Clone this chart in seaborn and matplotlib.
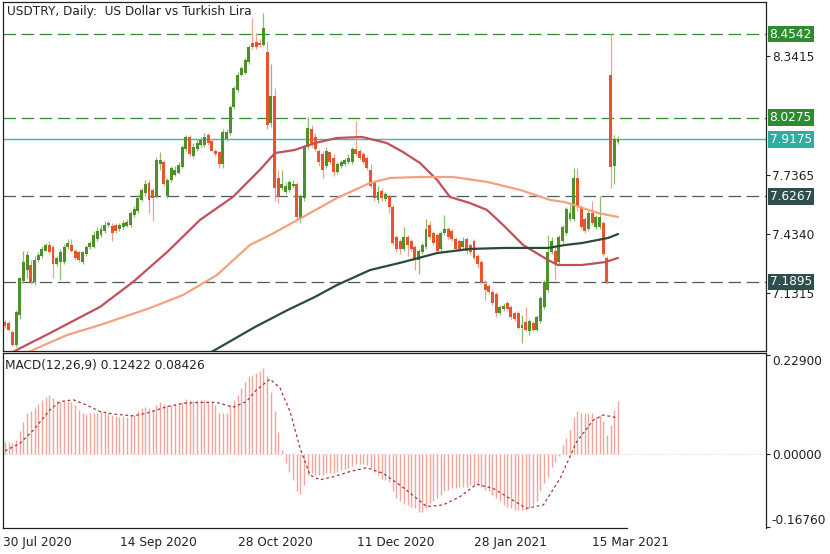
import numpy as np
import pandas as pd
import seaborn as sns
import matplotlib
matplotlib.use("Agg")
import matplotlib.pyplot as plt

# ---- daily candles, 30 Jul 2020 .. Mar 2021 ----
opens = [6.985, 6.98, 6.935, 6.87, 7.02, 7.195, 7.25, 7.275, 7.19, 7.30,
         7.32, 7.35, 7.38, 7.37, 7.28, 7.29, 7.29, 7.37, 7.38, 7.35,
         7.34, 7.29, 7.33, 7.37, 7.37, 7.41, 7.43, 7.45, 7.48, 7.475,
         7.48, 7.46, 7.47, 7.475, 7.48, 7.53, 7.55, 7.61, 7.645, 7.695,
         7.66, 7.63, 7.79, 7.80, 7.63, 7.71, 7.735, 7.745, 7.775, 7.87,
         7.93, 7.83, 7.87, 7.89, 7.89, 7.94, 7.91, 7.86, 7.85, 7.79,
         7.92, 7.95, 8.08, 8.17, 8.245, 8.255, 8.31, 8.41, 8.415, 8.41,
         8.40, 8.36, 8.00, 8.14, 7.72, 7.67, 7.65, 7.66, 7.68, 7.69,
         7.51, 7.62, 7.88, 7.97, 7.93, 7.86, 7.84, 7.78, 7.85, 7.82,
         7.75, 7.78, 7.79, 7.80, 7.80, 7.87, 7.855, 7.84, 7.82, 7.76,
         7.70, 7.61, 7.655, 7.615, 7.63, 7.57, 7.42, 7.40, 7.36, 7.42,
         7.40, 7.37, 7.30, 7.34, 7.37, 7.48, 7.44, 7.43, 7.36, 7.44,
         7.46, 7.45, 7.41, 7.40, 7.37, 7.41, 7.38, 7.40, 7.32, 7.29,
         7.18, 7.17, 7.14, 7.13, 7.03, 7.05, 7.08, 7.06, 7.03, 7.03,
         6.955, 6.985, 6.94, 6.98, 6.945, 6.99, 7.06, 7.15, 7.34, 7.35,
         7.29, 7.40, 7.44, 7.51, 7.51, 7.72, 7.57, 7.51, 7.46, 7.54,
         7.47, 7.47, 7.49, 7.31, 8.245, 7.78, 7.905]
highs = [6.996, 6.99, 6.945, 7.045, 7.215, 7.35, 7.35, 7.30, 7.32, 7.34,
         7.375, 7.39, 7.40, 7.38, 7.32, 7.36, 7.385, 7.41, 7.41, 7.36,
         7.35, 7.35, 7.38, 7.40, 7.45, 7.47, 7.48, 7.50, 7.50, 7.49,
         7.49, 7.49, 7.505, 7.51, 7.55, 7.575, 7.64, 7.67, 7.71, 7.71,
         7.67, 7.825, 7.85, 7.81, 7.72, 7.78, 7.78, 7.80, 7.89, 7.94,
         7.94, 7.90, 7.92, 7.93, 7.95, 7.95, 7.92, 7.87, 7.86, 7.97,
         7.97, 8.09, 8.19, 8.26, 8.29, 8.33, 8.40, 8.535, 8.46, 8.43,
         8.56, 8.42, 8.30, 8.18, 7.76, 7.76, 7.70, 7.71, 7.71, 7.70,
         7.64, 7.89, 8.03, 7.99, 7.95, 7.87, 7.86, 7.88, 7.86, 7.84,
         7.80, 7.81, 7.82, 7.84, 7.88, 8.01, 7.87, 7.85, 7.83, 7.79,
         7.71, 7.68, 7.67, 7.65, 7.64, 7.58, 7.43, 7.41, 7.47, 7.43,
         7.41, 7.38, 7.36, 7.39, 7.51, 7.50, 7.45, 7.44, 7.45, 7.53,
         7.47, 7.46, 7.42, 7.41, 7.42, 7.42, 7.39, 7.41, 7.33, 7.30,
         7.20, 7.18, 7.15, 7.14, 7.07, 7.08, 7.09, 7.07, 7.04, 7.04,
         7.02, 7.06, 7.00, 6.99, 7.02, 7.12, 7.20, 7.43, 7.42, 7.37,
         7.43, 7.48, 7.57, 7.58, 7.77, 7.77, 7.58, 7.52, 7.55, 7.60,
         7.53, 7.63, 7.50, 7.32, 8.46, 7.94, 7.935]
lows = [6.955, 6.94, 6.865, 6.86, 7.00, 7.185, 7.21, 7.18, 7.175, 7.29,
        7.31, 7.345, 7.33, 7.21, 7.27, 7.20, 7.28, 7.36, 7.34, 7.30,
        7.29, 7.28, 7.32, 7.36, 7.365, 7.40, 7.42, 7.44, 7.47, 7.40,
        7.44, 7.45, 7.46, 7.47, 7.47, 7.52, 7.54, 7.60, 7.63, 7.54,
        7.50, 7.62, 7.76, 7.68, 7.62, 7.70, 7.73, 7.74, 7.77, 7.86,
        7.83, 7.82, 7.86, 7.88, 7.88, 7.89, 7.855, 7.83, 7.77, 7.77,
        7.91, 7.94, 8.07, 8.16, 8.24, 8.25, 8.30, 8.38, 8.38, 8.39,
        8.395, 7.97, 7.98, 7.60, 7.59, 7.66, 7.64, 7.65, 7.67, 7.50,
        7.49, 7.60, 7.87, 7.88, 7.86, 7.78, 7.72, 7.77, 7.79, 7.73,
        7.74, 7.77, 7.78, 7.79, 7.79, 7.83, 7.81, 7.79, 7.76, 7.67,
        7.60, 7.59, 7.60, 7.60, 7.54, 7.38, 7.34, 7.33, 7.35, 7.32,
        7.35, 7.25, 7.23, 7.33, 7.36, 7.41, 7.38, 7.34, 7.35, 7.43,
        7.41, 7.40, 7.35, 7.35, 7.36, 7.33, 7.33, 7.30, 7.26, 7.18,
        7.10, 7.13, 7.07, 7.01, 7.02, 7.04, 7.04, 7.00, 6.99, 6.95,
        6.88, 6.94, 6.92, 6.94, 6.94, 6.98, 7.05, 7.14, 7.33, 7.20,
        7.28, 7.39, 7.43, 7.50, 7.50, 7.55, 7.46, 7.44, 7.45, 7.48,
        7.46, 7.46, 7.32, 7.18, 7.67, 7.69, 7.895]
closes = [6.965, 6.945, 6.87, 7.035, 7.21, 7.29, 7.325, 7.19, 7.30, 7.325,
          7.36, 7.38, 7.34, 7.28, 7.31, 7.34, 7.37, 7.39, 7.345, 7.31,
          7.30, 7.34, 7.37, 7.39, 7.43, 7.45, 7.46, 7.48, 7.49, 7.44,
          7.45, 7.48, 7.49, 7.495, 7.54, 7.56, 7.62, 7.66, 7.69, 7.61,
          7.62, 7.81, 7.81, 7.69, 7.71, 7.77, 7.76, 7.785, 7.88, 7.93,
          7.84, 7.88, 7.90, 7.915, 7.93, 7.90, 7.86, 7.84, 7.79, 7.955,
          7.955, 8.08, 8.18, 8.245, 8.28, 8.32, 8.39, 8.39, 8.39, 8.40,
          8.485, 7.99, 8.14, 7.67, 7.63, 7.69, 7.68, 7.70, 7.69, 7.52,
          7.63, 7.88, 7.975, 7.90, 7.87, 7.80, 7.76, 7.86, 7.80, 7.75,
          7.79, 7.80, 7.81, 7.82, 7.87, 7.84, 7.82, 7.80, 7.77, 7.68,
          7.62, 7.65, 7.62, 7.64, 7.57, 7.39, 7.36, 7.36, 7.42, 7.38,
          7.36, 7.30, 7.35, 7.38, 7.46, 7.42, 7.39, 7.35, 7.44, 7.46,
          7.42, 7.41, 7.36, 7.36, 7.40, 7.35, 7.34, 7.31, 7.28, 7.19,
          7.15, 7.14, 7.08, 7.03, 7.06, 7.065, 7.05, 7.01, 7.00, 6.955,
          6.97, 6.945, 6.99, 6.945, 7.01, 7.11, 7.19, 7.34, 7.40, 7.28,
          7.42, 7.47, 7.56, 7.54, 7.72, 7.57, 7.47, 7.45, 7.54, 7.49,
          7.52, 7.52, 7.33, 7.19, 7.776, 7.92, 7.9175]

# moving averages (sampled along the drawn curves)
ma_red_bars = [0, 3.2, 12.2, 25.7, 34.7, 43.9, 52.8, 61.7, 69.0, 73.1, 78.5, 83.9,
               89.9, 96.7, 103.4, 107.8, 112.4, 117.0, 120.5, 125.9, 130.5,
               134.9, 140.3, 147.0, 149.7, 156.2, 162.5, 166.0]
ma_red_vals = [6.81, 6.843, 6.929, 7.062, 7.19, 7.342, 7.506, 7.623, 7.761, 7.847,
               7.863, 7.898, 7.924, 7.929, 7.898, 7.852, 7.796, 7.71, 7.623,
               7.592, 7.557, 7.48, 7.378, 7.302, 7.276, 7.276, 7.291, 7.312]
ma_orange_bars = [0, 7.6, 16.8, 25.7, 39.3, 48.2, 57.4, 66.3, 71.8, 80.7, 89.9,
                  98.8, 104.3, 112.4, 121.3, 130.5, 139.5, 147.6, 151.6, 160.6, 166.0]
ma_orange_vals = [6.78, 6.843, 6.919, 6.970, 7.057, 7.123, 7.225, 7.378, 7.429,
                  7.521, 7.618, 7.694, 7.72, 7.725, 7.725, 7.70, 7.659, 7.608,
                  7.597, 7.541, 7.521]
ma_green_bars = [45, 56.9, 67.7, 76.6, 83.9, 89.9, 98.8, 107.8, 117.0, 125.9,
                 134.9, 147.0, 151.6, 156.2, 163.3, 166.0]
ma_green_vals = [6.715, 6.843, 6.96, 7.047, 7.113, 7.174, 7.25, 7.291, 7.337,
                 7.358, 7.363, 7.363, 7.378, 7.388, 7.414, 7.434]

# MACD(12,26,9)
macd_hist = [0.029, 0.029, 0.025, 0.033, 0.054, 0.074, 0.095, 0.100, 0.106, 0.116,
             0.126, 0.133, 0.137, 0.131, 0.123, 0.122, 0.123, 0.123, 0.122, 0.114,
             0.103, 0.095, 0.093, 0.095, 0.095, 0.096, 0.099, 0.095, 0.095, 0.091,
             0.089, 0.087, 0.089, 0.087, 0.091, 0.091, 0.099, 0.106, 0.109, 0.106,
             0.103, 0.114, 0.120, 0.116, 0.113, 0.114, 0.116, 0.118, 0.122, 0.128,
             0.126, 0.124, 0.126, 0.125, 0.126, 0.123, 0.122, 0.114, 0.095, 0.095,
             0.095, 0.114, 0.126, 0.137, 0.153, 0.168, 0.180, 0.183, 0.187, 0.193,
             0.200, 0.180, 0.145, 0.099, 0.052, 0.010, -0.019, -0.040, -0.059, -0.086,
             -0.093, -0.071, -0.048, -0.044, -0.048, -0.048, -0.048, -0.044, -0.044, -0.044,
             -0.040, -0.036, -0.034, -0.032, -0.026, -0.023, -0.023, -0.023, -0.025, -0.032,
             -0.040, -0.048, -0.056, -0.059, -0.063, -0.086, -0.102, -0.109, -0.116, -0.117,
             -0.121, -0.125, -0.133, -0.133, -0.125, -0.113, -0.109, -0.102, -0.094, -0.086,
             -0.082, -0.079, -0.079, -0.075, -0.075, -0.075, -0.071, -0.071, -0.071, -0.075,
             -0.082, -0.086, -0.094, -0.102, -0.109, -0.117, -0.121, -0.125, -0.129, -0.129,
             -0.130, -0.129, -0.125, -0.117, -0.109, -0.086, -0.067, -0.052, -0.029, -0.017,
             -0.003, 0.022, 0.037, 0.056, 0.087, 0.099, 0.095, 0.095, 0.095, 0.095,
             0.087, 0.091, 0.076, 0.045, 0.068, 0.103, 0.124]
signal_bars = [0, 4, 7.7, 12.2, 14.9, 18.5, 22.1, 25.7, 29.3, 34.7, 38.4, 43.8,
               48.3, 52.8, 57.3, 61.8, 65.4, 68.1, 71.8, 74.5, 77.2, 79.9, 82.6,
               85.3, 88.9, 93.4, 97.9, 102.4, 106.9, 111.5, 114.2, 118.7, 123.2,
               127.7, 132.2, 136.7, 141.2, 145.8, 150.3, 154.8, 159.3, 162.0, 166.0]
signal_vals = [0.008, 0.025, 0.056, 0.103, 0.122, 0.126, 0.114, 0.099, 0.093, 0.089,
               0.095, 0.110, 0.118, 0.120, 0.120, 0.109, 0.122, 0.149, 0.174, 0.153,
               0.099, 0.014, -0.048, -0.059, -0.052, -0.040, -0.031, -0.044, -0.071,
               -0.102, -0.121, -0.117, -0.098, -0.069, -0.079, -0.102, -0.125, -0.117,
               -0.056, 0.029, 0.079, 0.091, 0.084]

date_labels = ["30 Jul 2020", "14 Sep 2020", "28 Oct 2020", "11 Dec 2020",
               "28 Jan 2021", "15 Mar 2021"]
date_bars = [-0.6, 31.1, 63.1, 95.3, 127.0, 158.9]

levels = [8.4542, 8.0275, 7.9175, 7.6267, 7.1895]
price_ticks = [8.3415, 7.7365, 7.4340, 7.1315]

# ---- style ----
sns.set_style("white")
plt.rcParams['font.family'] = ['DejaVu Sans']

BULL, BEAR = "#4f8f2c", "#e8542e"
BULL_WICK, BEAR_WICK = "#8dbb70", "#f2a090"
GREEN_LVL, TEAL_LVL, SLATE_LVL = "#2e8b2e", "#2fae9f", "#2f4f4f"
FS = 8.3

W, H = 830, 554
fig = plt.figure(figsize=(W / 100, H / 100), dpi=100)


def px_box(l, t, r, b):
    return [l / W, 1 - b / H, (r - l) / W, (b - t) / H]


ax = fig.add_axes(px_box(2.7, 2, 766, 351))
axm = fig.add_axes(px_box(2.7, 353, 766, 528))
xlim = (-0.62, 206.07)

# ---- candles ----
df = pd.DataFrame({"open": opens, "high": highs, "low": lows, "close": closes})
df["bar"] = np.arange(len(df))
up = df["close"] >= df["open"]
for mask, body_col, wick_col in [(up, BULL, BULL_WICK), (~up, BEAR, BEAR_WICK)]:
    d = df[mask]
    ax.vlines(d["bar"], d["low"], d["high"], color=wick_col, lw=0.9, zorder=3)
    ax.bar(d["bar"], (d["close"] - d["open"]).abs().clip(lower=0.004),
           bottom=d[["open", "close"]].min(axis=1), width=0.8,
           color=body_col, lw=0, zorder=4)

# moving averages
sns.lineplot(x=ma_red_bars, y=ma_red_vals, ax=ax, color="#c0505a", lw=1.6, zorder=5)
sns.lineplot(x=ma_orange_bars, y=ma_orange_vals, ax=ax, color="#f4a27e", lw=1.6, zorder=5)
sns.lineplot(x=ma_green_bars, y=ma_green_vals, ax=ax, color="#2b4a3c", lw=1.6, zorder=5)

# horizontal levels with price boxes
lvl_style = {8.4542: (GREEN_LVL, GREEN_LVL, True), 8.0275: (GREEN_LVL, GREEN_LVL, True),
             7.9175: ("#3fb8aa", TEAL_LVL, False),
             7.6267: ("#4b5c5a", SLATE_LVL, True), 7.1895: ("#4b5c5a", SLATE_LVL, True)}
for val in levels:
    line_col, box_col, dashed = lvl_style[val]
    if dashed:
        ax.axhline(val, color=line_col, lw=0.9, dashes=(10, 4.5), zorder=2)
    else:
        ax.axhline(val, color=line_col, lw=1.0, zorder=2)
    ax.annotate(f"{val:.4f}", xy=(1.0, val), xycoords=("axes fraction", "data"),
                xytext=(2.6, 0), textcoords="offset points", ha="left", va="center",
                color="white", fontsize=FS + 0.4, annotation_clip=False,
                bbox=dict(boxstyle="square,pad=0.16", fc=box_col, ec="none"))

ax.set_xlim(*xlim)
ax.set_ylim(6.8375, 8.6174)
ax.set_xticks([])
ax.yaxis.tick_right()
ax.set_yticks(price_ticks)
ax.set_yticklabels([f"{v:.4f}" for v in price_ticks])
ax.tick_params(axis="y", direction="out", length=3, width=0.8, pad=1.2,
               labelsize=FS + 0.4, colors="#222222")
ax.set_xlabel("")
ax.set_ylabel("")

# ---- MACD panel ----
axm.axhline(0, color="#dcdcdc", lw=0.8, ls=":", zorder=1)
axm.vlines(np.arange(len(macd_hist)), 0, macd_hist, color="#f2a59c", lw=1.0, zorder=2)
sns.lineplot(x=signal_bars, y=signal_vals, ax=axm, color="#9c3a40", lw=0.9,
             linestyle=(0, (2.2, 2.2)), zorder=3)
axm.set_xlim(*xlim)
axm.set_ylim(-0.1705, 0.2343)
axm.yaxis.tick_right()
axm.set_yticks([0.229, 0.0, -0.1676])
axm.set_yticklabels(["0.22900", "0.00000", "-0.16760"])
ylabs = axm.get_yticklabels()
ylabs[0].set_va("top")
ylabs[2].set_va("bottom")
axm.tick_params(axis="y", direction="out", length=3, width=0.8, pad=1.2,
                labelsize=FS + 0.4, colors="#222222")
axm.set_xticks(date_bars)
axm.set_xticklabels(date_labels)
for lab in axm.get_xticklabels():
    lab.set_ha("left")
axm.tick_params(axis="x", direction="out", length=4, width=0.8, pad=2,
                labelsize=FS + 0.4, colors="#222222")
axm.set_xlabel("")
axm.set_ylabel("")
axm.spines["bottom"].set_bounds(xlim[0], 168.4)

for a in (ax, axm):
    for sp in a.spines.values():
        sp.set_color("#202020")
        sp.set_linewidth(0.9)

fig.text(7 / W, 1 - 12 / H, "USDTRY, Daily:  US Dollar vs Turkish Lira",
         fontsize=FS + 0.4, va="center", ha="left", color="#222222")
fig.text(5 / W, 1 - 365 / H, "MACD(12,26,9) 0.12422 0.08426",
         fontsize=FS + 0.4, va="center", ha="left", color="#222222")

fig.savefig("out.png", dpi=100)
